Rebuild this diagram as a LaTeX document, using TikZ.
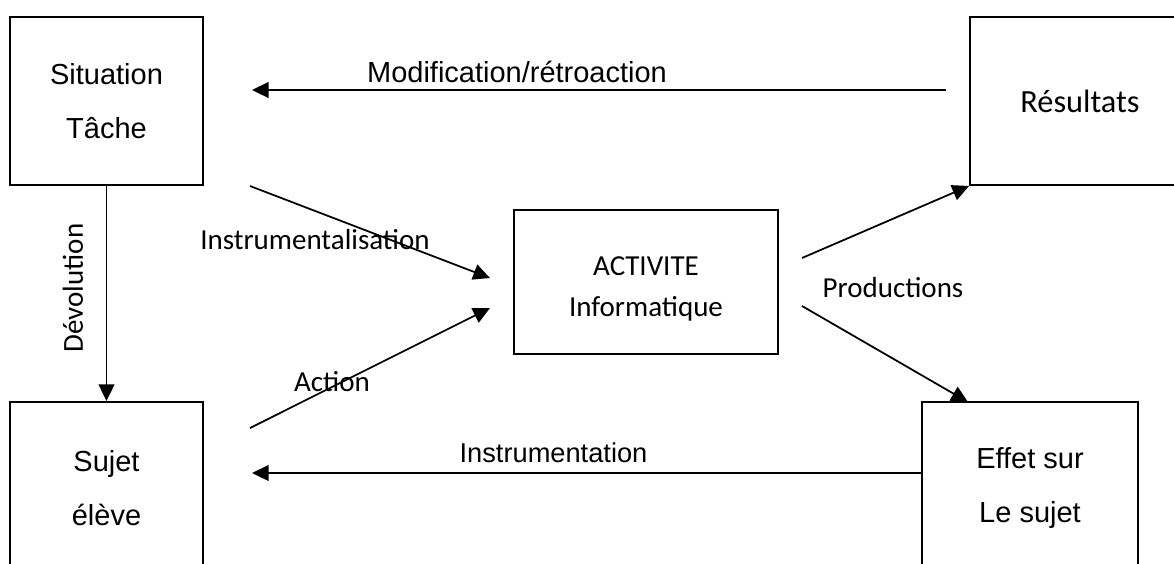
\documentclass[tikz,border=0pt]{standalone}
\usepackage{fontspec}
\setmainfont{Liberation Sans}
\newfontfamily\calibri{Carlito}
\usetikzlibrary{arrows.meta}

\tikzset{
  box/.style={draw, line width=1.1pt, inner sep=0pt, align=center,
    font=\fontsize{16.5}{31}\selectfont},
  arr/.style={line width=1pt, -{Triangle[length=9.5pt, width=9pt]}},
  lbl/.style={inner sep=0pt, font=\fontsize{16.5}{20}\selectfont},
  clbl/.style={inner sep=0pt, font=\calibri\fontsize{16.5}{20}\selectfont}
}

\begin{document}
\begin{tikzpicture}[x=0.2mm, y=-0.2mm]

\useasboundingbox (0,0) rectangle (1174,563);
\clip (0,0) rectangle (1174,563);

% === Cadres ===
\node[box, minimum width=3.86cm, minimum height=3.36cm] (sit) at (106.5,101) {Situation\\Tâche};
\node[box, minimum width=3.86cm, minimum height=3.44cm] (suj) at (106.5,488) {Sujet\\élève};
\node[box, minimum width=4.4cm, minimum height=3.36cm, font=\calibri\fontsize{18.4}{22}\selectfont] (res) at (1080,101) {Résultats};
\node[box, minimum width=4.32cm, minimum height=3.44cm] (eff) at (1030,488) {Effet sur\\Le sujet};
\node[box, minimum width=5.28cm, minimum height=2.88cm, font=\calibri\fontsize{16.5}{23}\selectfont] (act) at (646,282)
  {\raisebox{-7.7pt}[0pt][0pt]{\begin{tabular}{@{}c@{}}ACTIVITE\\Informatique\end{tabular}}};

% === Extremites des fleches ===
\coordinate (modA) at (946,90);
\coordinate (modB) at (252,90);
\coordinate (insA) at (250,186);
\coordinate (insB) at (490,278);
\coordinate (actA) at (250,428);
\coordinate (actB) at (490,308);
\coordinate (proA) at (802,258);
\coordinate (proB) at (802,306);
\coordinate (proC) at (968,402);
\coordinate (strB) at (252,473);

% === Fleches ===
\draw[arr] (modA) -- (modB);
\draw[arr] (sit.south) -- (suj.north);
\draw[arr] (insA) -- (insB);
\draw[arr] (actA) -- (actB);
\draw[arr] (proA) -- (res.south west);
\draw[arr] (proB) -- (proC);
\draw[arr] (eff.west |- strB) -- (strB);

% === Etiquettes ===
\node[lbl] (lmod) at (517,72) {Modification/rétroaction};
\node[clbl, rotate=90] (ldev) at (73,288) {Dévolution};
\node[clbl] (lins) at (315,240) {Instrumentalisation};
\node[clbl] (lact) at (332,382) {Action};
\node[clbl] (lpro) at (893,288) {Productions};
\node[lbl, font=\fontsize{15.5}{19}\selectfont] (lstr) at (553.5,453) {Instrumentation};

\end{tikzpicture}
\end{document}
